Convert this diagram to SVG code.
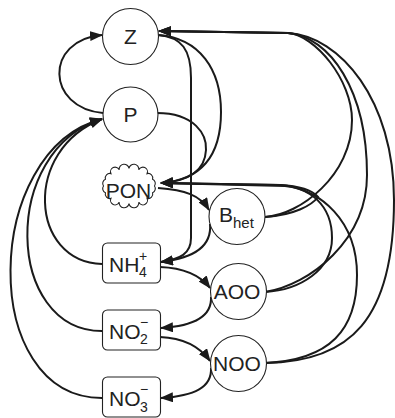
<svg xmlns="http://www.w3.org/2000/svg" width="395" height="418" viewBox="0 0 395 418">
<style>
.node{fill:#fff;stroke:#222;stroke-width:1.1}
.lbl{font-family:"Liberation Sans",Arial,sans-serif;font-size:21px;fill:#222}
.mid{text-anchor:middle}
.e{fill:none;stroke:#1a1a1a;stroke-width:2}
.a{marker-end:url(#ah)}
</style>
<defs>
<marker id="ah" markerWidth="13" markerHeight="10" refX="12" refY="5" orient="auto" markerUnits="userSpaceOnUse"><path d="M0,0 L13,5 L0,10 z" fill="#1a1a1a"/></marker>
</defs>
<rect width="395" height="418" fill="#fff"/>
<g id="connectors">
<path class="e a" d="M103,113 C 46,108 44,40 102,35"/>
<path class="e a" d="M102,264 C 30,262 22,150 102,119"/>
<path class="e a" d="M102,331 C 5,331 0,150 102,119"/>
<path class="e a" d="M102,398 C -22,398 -18,150 102,119"/>
<path class="e a" d="M158,35 C 182,37 191,50 191,78 L 191,238 C 191,254 180,259 161,262"/>
<path class="e a" d="M158,35 C 200,38 221,70 221,112 C 221,158 200,180 161,183"/>
<path class="e a" d="M157,113 C 195,113 207,135 206,150 C 205,170 190,181 161,183"/>
<path class="e a" d="M265,217 C 300,215 352,175 352,120 C 352,80 315,35 288,33 L 159,31"/>
<path class="e a" d="M265,292 C 310,285 367,240 367,175 C 367,90 330,37 288,33 L 159,31"/>
<path class="e a" d="M265,363 C 350,362 394,320 394,200 C 394,100 340,36 288,33 L 159,31"/>
<path class="e a" d="M265,217 C 295,215 312,205 318,197 C 312,190 300,186 280,185 L 161,183"/>
<path class="e a" d="M265,292 C 300,290 332,270 332,238 C 332,205 310,187 280,185 L 161,183"/>
<path class="e a" d="M265,363 C 330,360 357,330 357,275 C 357,220 320,190 285,186 L 161,183"/>
<path class="e a" d="M158,188 C 185,190 200,195 209,210"/>
<path class="e a" d="M210,224 C 212,246 195,258 161,262"/>
<path class="e a" d="M160,267 C 185,268 200,275 210,288"/>
<path class="e a" d="M211,297 C 212,316 195,326 161,328"/>
<path class="e a" d="M160,337 C 185,338 200,347 210,361"/>
<path class="e a" d="M211,368 C 212,387 195,396 161,398"/>
</g>
<g id="Z">
<circle class="node" cx="130.5" cy="36.5" r="28"/>
<text class="lbl mid" x="130.5" y="44">Z</text>
</g>
<g id="P">
<circle class="node" cx="130.5" cy="114.5" r="27.5"/>
<text class="lbl mid" x="130.5" y="122">P</text>
</g>
<g id="PON">
<path class="node" d="M154.5,186 A4.5,4.5 0 0,1 152.56,192.7 A4.5,4.5 0 0,1 147.03,198.37 A4.5,4.5 0 0,1 138.77,202.17 A4.5,4.5 0 0,1 129,203.5 A4.5,4.5 0 0,1 119.23,202.17 A4.5,4.5 0 0,1 110.97,198.37 A4.5,4.5 0 0,1 105.44,192.7 A4.5,4.5 0 0,1 103.5,186 A4.5,4.5 0 0,1 105.44,179.3 A4.5,4.5 0 0,1 110.97,173.63 A4.5,4.5 0 0,1 119.23,169.83 A4.5,4.5 0 0,1 129,168.5 A4.5,4.5 0 0,1 138.77,169.83 A4.5,4.5 0 0,1 147.03,173.63 A4.5,4.5 0 0,1 152.56,179.3 A4.5,4.5 0 0,1 154.5,186 z"/>
<text class="lbl mid" x="128.5" y="198">PON</text>
</g>
<g id="Bhet">
<circle class="node" cx="237" cy="216.5" r="28"/>
<text class="lbl" x="219" y="222">B<tspan font-size="15" dy="6">het</tspan></text>
</g>
<g id="AOO">
<circle class="node" cx="238.5" cy="291.5" r="28"/>
<text class="lbl mid" x="237" y="299">AOO</text>
</g>
<g id="NOO">
<circle class="node" cx="238.5" cy="363.5" r="28"/>
<text class="lbl mid" x="237" y="371">NOO</text>
</g>
<g id="NH4">
<rect class="node" x="102.5" y="243" width="58" height="40" rx="5"/>
<text class="lbl" x="109" y="272">NH<tspan x="139" y="277" font-size="14">4</tspan><tspan x="139" y="261" font-size="14">+</tspan></text>
</g>
<g id="NO2">
<rect class="node" x="102.5" y="310" width="58" height="40" rx="5"/>
<text class="lbl" x="109" y="339">NO<tspan x="140" y="344" font-size="14">2</tspan><tspan x="140" y="327" font-size="14">−</tspan></text>
</g>
<g id="NO3">
<rect class="node" x="102.5" y="377" width="58" height="40" rx="5"/>
<text class="lbl" x="109" y="406">NO<tspan x="140" y="412" font-size="14">3</tspan><tspan x="140" y="394" font-size="14">−</tspan></text>
</g>
</svg>
